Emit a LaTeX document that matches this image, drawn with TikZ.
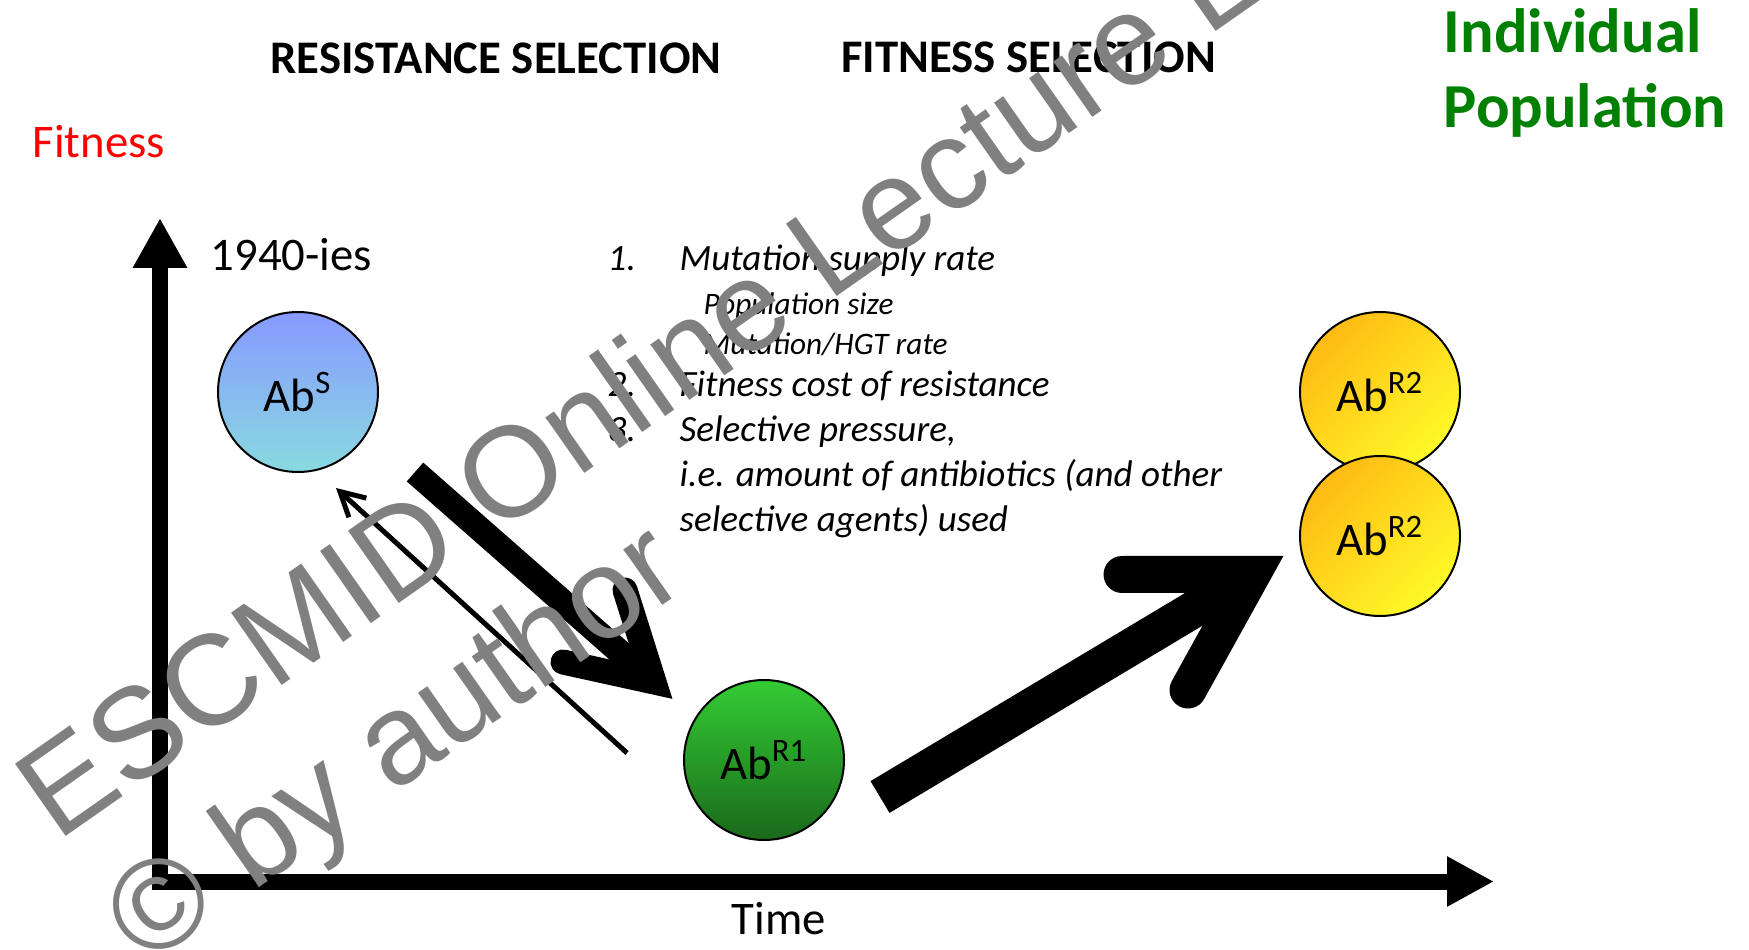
\documentclass[tikz,border=0pt]{standalone}
\usepackage{fontspec}
\setmainfont{Carlito}
\newfontfamily\wmfont{Liberation Sans}
\usetikzlibrary{arrows.meta}
\definecolor{abstop}{RGB}{136,153,255}
\definecolor{absbot}{RGB}{136,218,224}
\definecolor{ronetop}{RGB}{51,204,51}
\definecolor{ronebot}{RGB}{26,105,26}
\definecolor{rtwoa}{RGB}{255,186,20}
\definecolor{rtwob}{RGB}{255,250,40}
\definecolor{popgreen}{RGB}{0,128,0}
\definecolor{wmgray}{RGB}{128,128,128}
\begin{document}
\begin{tikzpicture}[x=0.1mm,y=-0.1mm,line join=miter,
	ball/.style={circle,draw,line width=0.2mm,minimum size=16mm,inner sep=0pt,font=\fontsize{13.3}{16}\selectfont},
	head/.style={font=\fontsize{13.3}{16}\selectfont\bfseries,anchor=base},
	lbl/.style={font=\fontsize{13.3}{16}\selectfont,anchor=base west,inner sep=0pt},
	green/.style={font=\fontsize{17.8}{21}\selectfont\bfseries,text=popgreen,anchor=base west,inner sep=0pt},
	item/.style={font=\fontsize{10.55}{13}\selectfont\itshape,anchor=base west,inner sep=0pt},
	subitem/.style={font=\fontsize{8.9}{11}\selectfont\itshape,anchor=base west,inner sep=0pt},
	wm/.style={font=\fontsize{36.5}{44}\selectfont\wmfont,text=wmgray,anchor=base west,inner sep=0pt,rotate=35}]
	\path[use as bounding box,fill=white] (0,0) rectangle (1749,950);
	% axes
	\coordinate (O) at (160,881.5);
	\coordinate (ytop) at (160,218);
	\coordinate (xend) at (1494,881.5);
	\draw[line width=1.6mm,{Triangle[length=5mm,width=5.1mm]}-{Triangle[length=4.7mm,width=4.7mm]}]
	(ytop)--(O)--(xend);
	% populations
	\node[ball,top color=abstop,bottom color=absbot] (AbS) at (298,392) {Ab\textsuperscript{S}};
	\node[ball,top color=ronetop,bottom color=ronebot] (AbRone) at (764,760) {Ab\textsuperscript{R1}};
	\node[ball,top color=rtwoa,bottom color=rtwob,shading angle=45] (AbRtwoA) at (1380,392) {Ab\textsuperscript{R2}};
	\node[ball,top color=rtwoa,bottom color=rtwob,shading angle=45] (AbRtwoB) at (1380,536) {Ab\textsuperscript{R2}};
	% arrows
	\coordinate (dstart) at (415,472);
	\coordinate (dvert) at (654,682);
	\coordinate (dbarbl) at (563,662);
	\coordinate (dbarbr) at (625,590);
	\draw[line width=2.5mm] (dstart)--(dvert);
	\draw[line width=2.5mm,line cap=round] (dbarbl)--(dvert)--(dbarbr);
	\coordinate (ustart) at (880,797);
	\coordinate (uvert) at (1252,574.5);
	\coordinate (ubarbt) at (1122,574.5);
	\coordinate (ubarbb) at (1188,690);
	\draw[line width=3.7mm] (ustart)--(uvert);
	\draw[line width=3.7mm,line cap=round] (ubarbt)--(uvert)--(ubarbb);
	\coordinate (tback) at (627,753);
	\coordinate (tfront) at (336,488);
	\draw[line width=0.5mm,-{Straight Barb[length=2.4mm,width=2.6mm]}] (tback)--(tfront);
	% texts
	\node[head] (rsel) at (496,74) {RESISTANCE SELECTION};
	\node[head] (fsel) at (1028.5,73) {FITNESS SELECTION};
	\node[lbl,text=red] (fit) at (32,158) {Fitness};
	\node[green] (indiv) at (1443,53) {Individual};
	\node[green] (popul) at (1443,128) {Population};
	\node[lbl] (year) at (210,271) {1940-ies};
	\node[lbl] (time) at (731,934) {Time};
	\node[item] (none) at (607,271) {1.};
	\node[item] (ione) at (679,271) {Mutation supply rate};
	\node[subitem] (sone) at (703,315) {Population size};
	\node[subitem] (stwo) at (703,355) {Mutation/HGT rate};
	\node[item] (ntwo) at (607,397) {2.};
	\node[item] (itwo) at (679,397) {Fitness cost of resistance};
	\node[item] (nthree) at (607,442) {3.};
	\node[item] (ithree) at (679,442) {Selective pressure,};
	\node[item] (ithreeb) at (679,487) {i.e. amount of antibiotics (and other};
	\node[item] (ithreec) at (679,532) {selective agents) used};
	% watermark
	\begin{scope}
		\clip (0,0) rectangle (1749,950);
		\node[wm] (wmone) at (57,843) {ESCMID Online Lecture Library};
		\node[wm] (wmtwo) at (145,968) {© by author};
	\end{scope}
\end{tikzpicture}
\end{document}
